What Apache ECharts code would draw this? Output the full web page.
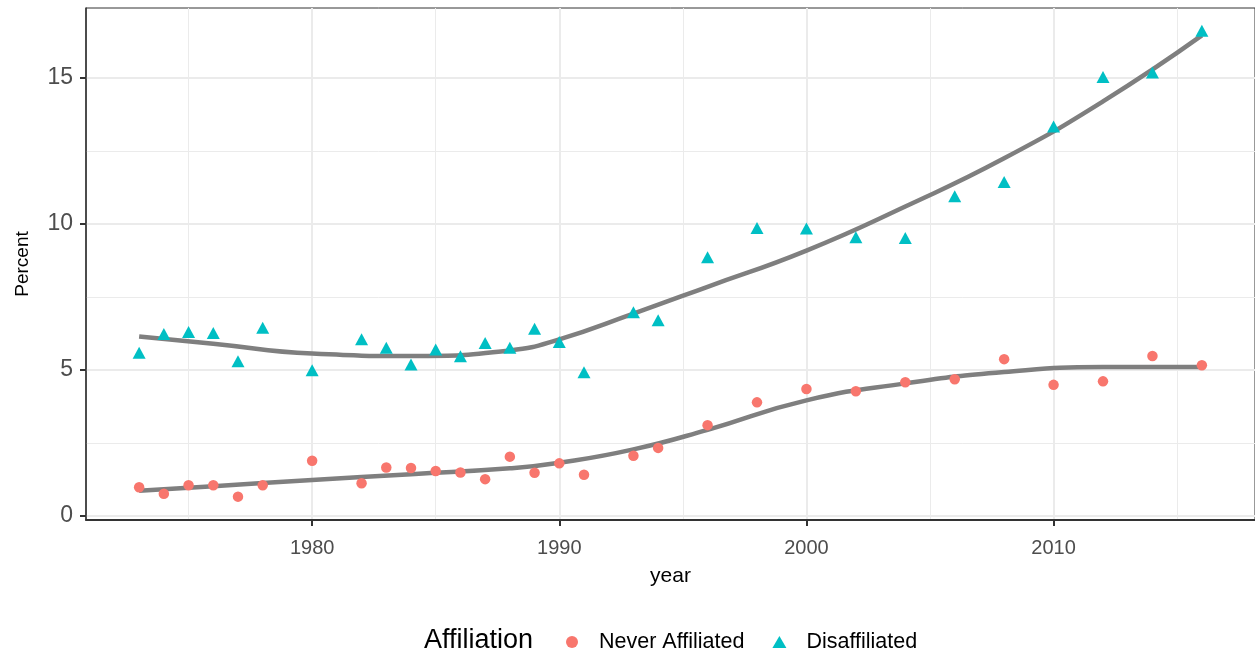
<!DOCTYPE html>
<html>
<head>
<meta charset="utf-8">
<script src="https://cdn.jsdelivr.net/npm/echarts@6/dist/echarts.min.js"></script>
<style>
  html, body { margin: 0; padding: 0; background: #fff; }
  #chart { width: 1255px; height: 653px; }
</style>
</head>
<body>
<div id="chart"></div>
<script>
// survey years
var years = [1973, 1974, 1975, 1976, 1977, 1978, 1980, 1982, 1983, 1984, 1985, 1986, 1987, 1988, 1989,
  1990, 1991, 1993, 1994, 1996, 1998, 2000, 2002, 2004, 2006, 2008, 2010, 2012, 2014, 2016];
var neverAffiliated = [0.98, 0.76, 1.05, 1.05, 0.66, 1.05, 1.89, 1.12, 1.66, 1.64, 1.54, 1.49, 1.26, 2.03, 1.48,
  1.80, 1.41, 2.06, 2.33, 3.11, 3.89, 4.35, 4.27, 4.58, 4.68, 5.37, 4.49, 4.61, 5.48, 5.16];
var disaffiliated = [5.59, 6.23, 6.30, 6.27, 5.30, 6.45, 4.99, 6.05, 5.76, 5.19, 5.70, 5.47, 5.92, 5.76, 6.41,
  5.96, 4.92, 6.98, 6.70, 8.86, 9.86, 9.85, 9.55, 9.52, 10.95, 11.44, 13.34, 15.04, 15.19, 16.62];

// smoothed trend
var fitYears = [1973, 1976, 1980, 1984, 1988, 1990, 1993, 1996, 2000, 2004, 2008, 2012, 2016];
var neverFit = [0.86, 1.02, 1.23, 1.43, 1.63, 1.82, 2.28, 2.95, 3.96, 4.54, 4.93, 5.10, 5.10];
var disaffFit = [6.15, 5.90, 5.56, 5.48, 5.67, 6.05, 6.93, 7.85, 9.09, 10.60, 12.25, 14.20, 16.46];

var xMajor = [1980, 1990, 2000, 2010];
var xMinor = [1975, 1985, 1995, 2005, 2015];
var yMajor = [0, 5, 10, 15];
var yMinor = [2.5, 7.5, 12.5];

var font = "'Liberation Sans', Arial, sans-serif";

function zip(xs, ys) {
  return xs.map(function (x, i) { return [x, ys[i]]; });
}

var chart = echarts.init(document.getElementById('chart'));

chart.setOption({
  backgroundColor: '#ffffff',
  animation: false,
  textStyle: { fontFamily: font },
  title: {
    text: 'Affiliation',
    left: 419,
    top: 622,
    textStyle: { fontFamily: font, fontSize: 27, fontWeight: 'normal', color: '#000000' }
  },
  legend: {
    data: ['Never Affiliated', 'Disaffiliated'],
    left: 561,
    top: 626,
    itemWidth: 14,
    itemHeight: 12,
    itemGap: 28,
    textStyle: { fontFamily: font, fontSize: 21.5, color: '#000000', padding: [0, 0, 0, 15] }
  },
  grid: {
    left: 86,
    right: -6,
    top: 8,
    bottom: 133,
    show: true,
    borderColor: '#333333',
    borderWidth: 1
  },
  xAxis: [{
    type: 'value',
    min: 1970.85,
    max: 2018.15,
    name: 'year',
    nameLocation: 'middle',
    nameGap: 46,
    nameTextStyle: { fontFamily: font, fontSize: 21, color: '#000000' },
    axisLine: { show: true, onZero: false, lineStyle: { color: '#333333', width: 2 } },
    axisTick: { show: true, length: 6, customValues: xMajor, lineStyle: { color: '#333333', width: 2 } },
    axisLabel: {
      customValues: xMajor, margin: 18, fontSize: 20, color: '#4D4D4D', fontFamily: font,
      formatter: function (v) { return String(v); }
    },
    splitLine: { show: true, lineStyle: { color: '#EBEBEB', width: 2 } }
  }, {
    type: 'value',
    min: 1970.85,
    max: 2018.15,
    position: 'bottom',
    axisLine: { show: false },
    axisLabel: { show: false },
    axisTick: { show: false, customValues: xMinor },
    splitLine: { show: true, lineStyle: { color: '#EBEBEB', width: 1 } }
  }],
  yAxis: [{
    type: 'value',
    min: -0.14,
    max: 17.4,
    name: 'Percent',
    nameLocation: 'middle',
    nameGap: 54,
    nameTextStyle: { fontFamily: font, fontSize: 19, color: '#000000' },
    axisLine: { show: true, onZero: false, lineStyle: { color: '#333333', width: 1.5 } },
    axisTick: { show: true, length: 6, customValues: yMajor, lineStyle: { color: '#333333', width: 2 } },
    axisLabel: { customValues: yMajor, margin: 13, fontSize: 23, color: '#4D4D4D', fontFamily: font },
    splitLine: { show: true, lineStyle: { color: '#EBEBEB', width: 2 } }
  }, {
    type: 'value',
    min: -0.14,
    max: 17.4,
    position: 'left',
    axisLine: { show: false },
    axisLabel: { show: false },
    axisTick: { show: false, customValues: yMinor },
    splitLine: { show: true, lineStyle: { color: '#EBEBEB', width: 1 } }
  }],
  series: [
    {
      name: 'neverFit',
      type: 'line',
      smooth: true,
      showSymbol: false,
      silent: true,
      z: 2,
      lineStyle: { color: '#7F7F7F', width: 4.5 },
      data: zip(fitYears, neverFit)
    },
    {
      name: 'disaffFit',
      type: 'line',
      smooth: true,
      showSymbol: false,
      silent: true,
      z: 2,
      lineStyle: { color: '#7F7F7F', width: 4.5 },
      data: zip(fitYears, disaffFit)
    },
    {
      name: 'Never Affiliated',
      type: 'scatter',
      symbol: 'circle',
      symbolSize: 10.5,
      z: 3,
      itemStyle: { color: '#F8766D', opacity: 1 },
      data: zip(years, neverAffiliated)
    },
    {
      name: 'Disaffiliated',
      type: 'scatter',
      symbol: 'triangle',
      symbolSize: [13, 12],
      z: 3,
      itemStyle: { color: '#00BFC4', opacity: 1 },
      data: zip(years, disaffiliated)
    }
  ]
});
</script>
</body>
</html>
